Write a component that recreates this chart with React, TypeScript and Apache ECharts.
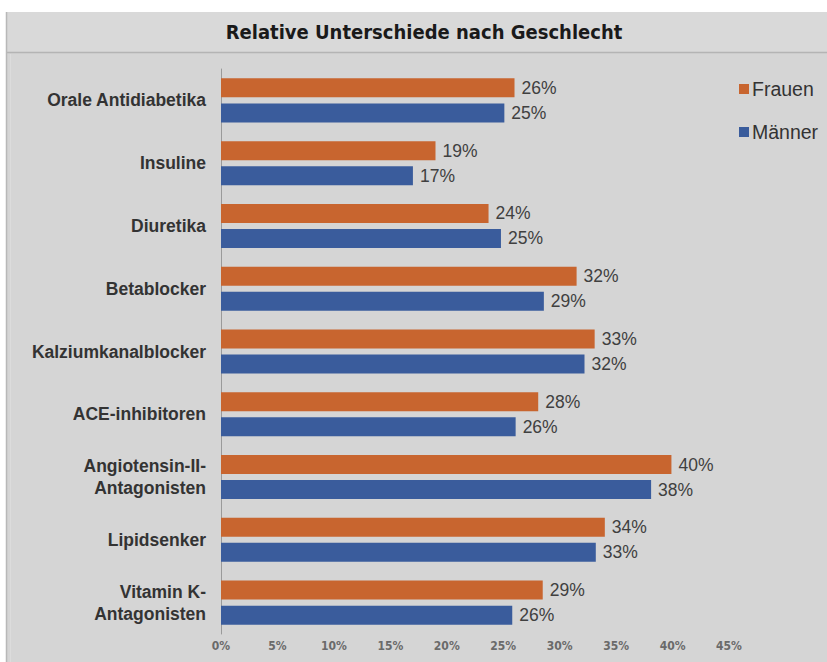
import React, { useEffect, useRef } from "react";
import * as echarts from "echarts";

const categories = [
  "Orale Antidiabetika",
  "Insuline",
  "Diuretika",
  "Betablocker",
  "Kalziumkanalblocker",
  "ACE-inhibitoren",
  "Angiotensin-II-\nAntagonisten",
  "Lipidsenker",
  "Vitamin K-\nAntagonisten",
];
const frauen = [26, 19, 23.7, 31.5, 33.1, 28.1, 39.9, 34, 28.5];
const maenner = [25.1, 17, 24.8, 28.6, 32.2, 26.1, 38.1, 33.2, 25.8];
const titleText = "Relative Unterschiede nach Geschlecht";
const seriesNames = ["Frauen", "Männer"];

export default function App() {
  const ref = useRef<HTMLDivElement>(null);
  useEffect(() => {
    if (!ref.current) return;
    const chart = echarts.init(ref.current, null, { renderer: "svg" });
    const labelCfg = {
      show: true,
      position: "right",
      distance: 7,
      formatter: (p: any) => Math.round(p.value) + "%",
      color: "#404040",
      fontSize: 17.5,
      fontFamily: "'Liberation Sans', Arial, sans-serif",
    };
    chart.setOption({
      animation: false,
      backgroundColor: "#ffffff",
      graphic: [
        { type: "rect", silent: true, z: -10, shape: { x: 6, y: 12, width: 821, height: 650 }, style: { fill: "#d5d5d5" } },
        { type: "rect", silent: true, z: -9, shape: { x: 6, y: 12, width: 821, height: 40 }, style: { fill: "#d9d9d9" } },
        { type: "line", silent: true, z: -8, shape: { x1: 6, y1: 52.5, x2: 827, y2: 52.5 }, style: { stroke: "#b4b4b4", lineWidth: 1.5 } },
        { type: "line", silent: true, z: -8, shape: { x1: 6.5, y1: 12, x2: 6.5, y2: 662 }, style: { stroke: "#b8b8b8", lineWidth: 1.5 } },
        { type: "line", silent: true, z: -8, shape: { x1: 10.5, y1: 54, x2: 10.5, y2: 662 }, style: { stroke: "#dcdcdc", lineWidth: 1 } },
        {
          type: "text",
          silent: true,
          x: 424,
          y: 32,
          style: {
            text: titleText,
            fill: "#1a1a1a",
            font: "bold 20px 'DejaVu Sans Condensed', 'DejaVu Sans', sans-serif",
            textAlign: "center",
            textVerticalAlign: "middle",
          },
        },
      ],
      legend: {
        orient: "vertical",
        left: 734,
        top: 74,
        itemWidth: 10,
        itemHeight: 10,
        itemGap: 23,
        icon: "rect",
        data: seriesNames,
        textStyle: { color: "#333333", fontSize: 19.5, fontFamily: "'Liberation Sans', Arial, sans-serif", padding: [0, 0, 0, -2] },
      },
      grid: { left: 221, right: 98, top: 69, bottom: 28, containLabel: false },
      xAxis: {
        type: "value",
        min: 0,
        max: 45,
        interval: 5,
        axisLine: { show: false },
        axisTick: { show: false },
        splitLine: { show: false },
        axisLabel: {
          formatter: "{value}%",
          color: "#6a6a6a",
          fontSize: 12,
          fontWeight: "bold",
          margin: 6,
          fontFamily: "'Liberation Sans Narrow', 'DejaVu Sans Condensed', sans-serif",
        },
      },
      yAxis: {
        type: "category",
        data: categories,
        inverse: true,
        axisLine: { show: true, lineStyle: { color: "#9a9a9a", width: 1 } },
        axisTick: { show: false },
        axisLabel: {
          color: "#333333",
          fontSize: 17.5,
          fontWeight: "bold",
          margin: 15,
          lineHeight: 22,
          align: "right",
          fontFamily: "'Liberation Sans', Arial, sans-serif",
        },
      },
      series: [
        {
          name: seriesNames[0],
          type: "bar",
          data: frauen,
          barWidth: 19,
          barGap: "32%",
          itemStyle: { color: "#c8652f" },
          label: labelCfg,
        },
        {
          name: seriesNames[1],
          type: "bar",
          data: maenner,
          barWidth: 19,
          barGap: "32%",
          itemStyle: { color: "#3a5c9c" },
          label: labelCfg,
        },
      ],
    });
    return () => chart.dispose();
  }, []);
  return <div ref={ref} style={{ position: "fixed", left: 0, top: 0, width: 827, height: 662 }} />;
}
